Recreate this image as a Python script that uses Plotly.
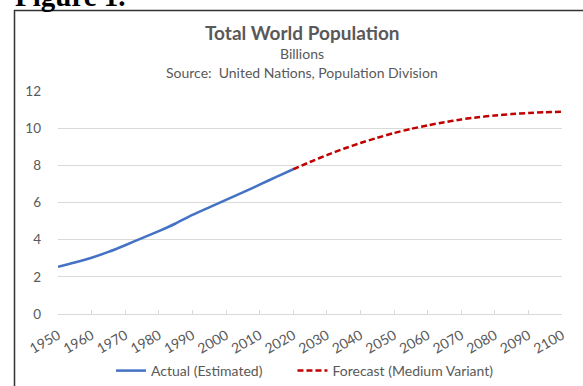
import plotly.graph_objects as go

# Data (billions)
actual_years = [1950, 1955, 1960, 1965, 1970, 1975, 1980, 1985, 1990, 1995, 2000, 2005, 2010, 2015, 2020]
actual_pop = [2.54, 2.77, 3.03, 3.34, 3.70, 4.08, 4.46, 4.87, 5.33, 5.74, 6.14, 6.54, 6.96, 7.38, 7.79]

forecast_years = [2020, 2025, 2030, 2035, 2040, 2045, 2050, 2055, 2060, 2065, 2070, 2075, 2080, 2085, 2090, 2095, 2100]
forecast_pop = [7.79, 8.18, 8.55, 8.89, 9.20, 9.48, 9.74, 9.96, 10.15, 10.32, 10.47, 10.59, 10.68, 10.76, 10.82, 10.86, 10.88]

series_names = ["Actual (Estimated)", "Forecast (Medium Variant)"]

x_ticks = list(range(1950, 2101, 10))
y_ticks = [0, 2, 4, 6, 8, 10, 12]

W, H = 583, 386
L, R, T, B = 58, 21, 91, 72
PW, PH = W - L - R, H - T - B

def xp(px):
    return (px - L) / PW

def yp(py):
    return (H - B - py) / PH

FONT = "Lato"
GRAY = "#595959"
PAD = "\u00a0" * 7  # extra spacing after the first legend entry

fig = go.Figure()
fig.add_trace(go.Scatter(
    x=actual_years, y=actual_pop, mode="lines", name=series_names[0] + PAD,
    line=dict(color="#4472C4", width=2.5, shape="spline", smoothing=0.6),
))
fig.add_trace(go.Scatter(
    x=forecast_years, y=forecast_pop, mode="lines", name=series_names[1],
    line=dict(color="#C00000", width=2.5, dash="6px,3px", shape="spline", smoothing=0.6),
))

fig.update_layout(
    width=W, height=H,
    margin=dict(l=L, r=R, t=T, b=B, autoexpand=False),
    paper_bgcolor="white", plot_bgcolor="white",
    font=dict(family=FONT, color=GRAY, size=13),
    showlegend=True,
    legend=dict(orientation="h", x=xp(111), xanchor="left", y=yp(371), yanchor="middle",
                font=dict(family=FONT, size=14, color=GRAY), itemwidth=30,
                bgcolor="rgba(0,0,0,0)", traceorder="normal"),
    xaxis=dict(
        range=[1950, 2100], tickmode="array", tickvals=x_ticks, ticktext=[str(v) for v in x_ticks],
        tickangle=-30, showgrid=False, showline=True, linecolor="#d9d9d9", linewidth=1,
        ticks="inside", ticklen=4, tickcolor="#d9d9d9", tickfont=dict(size=14, color=GRAY, family=FONT),
        ticklabelstandoff=7, zeroline=False, fixedrange=True,
    ),
    yaxis=dict(
        range=[0, 12], tickmode="array", tickvals=y_ticks, showgrid=True, gridcolor="#d9d9d9",
        gridwidth=1, zeroline=False, showline=False, ticks="", ticklabelstandoff=16,
        tickfont=dict(size=13.5, color=GRAY, family=FONT), fixedrange=True,
    ),
    shapes=[dict(type="rect", xref="paper", yref="paper",
                 x0=xp(14.5), x1=xp(620), y0=yp(420), y1=yp(10.5),
                 line=dict(color="#333333", width=1.5), fillcolor="rgba(0,0,0,0)", layer="below")],
    annotations=[
        dict(text="<b>Total World Population</b>", x=xp(302), y=yp(33), xref="paper", yref="paper",
             xanchor="center", yanchor="middle", showarrow=False, font=dict(size=19, color=GRAY, family=FONT)),
        dict(text="Billions", x=xp(302), y=yp(54), xref="paper", yref="paper",
             xanchor="center", yanchor="middle", showarrow=False, font=dict(size=14, color=GRAY, family=FONT)),
        dict(text="Source:  United Nations, Population Division", x=xp(302), y=yp(72.5), xref="paper", yref="paper",
             xanchor="center", yanchor="middle", showarrow=False, font=dict(size=14, color=GRAY, family=FONT)),
        dict(text="<b>Figure 1.</b>", x=xp(13), y=yp(14), xref="paper", yref="paper",
             xanchor="left", yanchor="bottom", showarrow=False,
             font=dict(size=29, color="black", family="Liberation Serif")),
    ],
)

fig.write_html("out.html")
